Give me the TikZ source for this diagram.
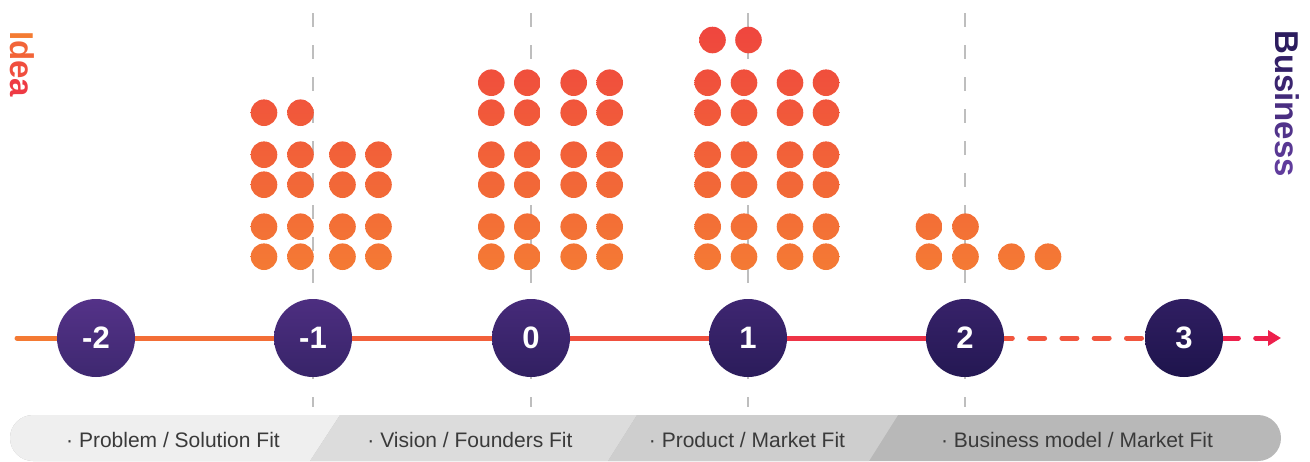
\documentclass[tikz,border=0pt]{standalone}
\usepackage{fontspec}
\setmainfont{Liberation Sans}
\usetikzlibrary{arrows.meta,backgrounds}

\definecolor{bolaTopo}{RGB}{239,70,62}
\definecolor{bolaBase}{RGB}{244,122,52}
\definecolor{roxoA}{RGB}{84,50,136}
\definecolor{roxoB}{RGB}{48,30,98}
\definecolor{roxoC}{RGB}{62,40,112}
\definecolor{roxoD}{RGB}{30,20,76}
\definecolor{cinzaGuia}{RGB}{190,190,190}
\definecolor{faixaA}{RGB}{239,239,239}
\definecolor{faixaB}{RGB}{220,220,220}
\definecolor{faixaC}{RGB}{206,206,206}
\definecolor{faixaD}{RGB}{184,184,184}
\definecolor{textoFaixa}{RGB}{58,58,58}
\definecolor{eixoA}{RGB}{244,122,51}
\definecolor{eixoB}{RGB}{243,110,54}
\definecolor{eixoC}{RGB}{242,96,58}
\definecolor{eixoD}{RGB}{240,80,62}
\definecolor{eixoE}{RGB}{238,52,70}
\definecolor{eixoF}{RGB}{241,86,62}
\definecolor{eixoG}{RGB}{237,32,76}
\definecolor{ideiaA}{RGB}{244,123,50}
\definecolor{ideiaB}{RGB}{242,100,56}
\definecolor{ideiaC}{RGB}{240,78,62}
\definecolor{ideiaD}{RGB}{238,58,68}
\definecolor{titA}{RGB}{44,28,94}
\definecolor{titB}{RGB}{96,60,156}

% bolinha colorida conforme a altura
\newcommand\bolinha[2]{%
  \pgfmathtruncatemacro\pa{max(0,min(100,(#2-40)/2.43))}%
  \pgfmathtruncatemacro\pb{max(0,min(100,(#2-13)/2.43))}%
  \shade[top color=bolaBase!\pa!bolaTopo,bottom color=bolaBase!\pb!bolaTopo] (#1,#2) circle (13.3pt);}

\begin{document}
\begin{tikzpicture}[x=1pt,y=-1pt,
  etapa/.style={circle,minimum size=78pt,inner sep=0pt,text=white,font=\fontsize{31}{31}\selectfont\bfseries},
  guia/.style={draw=cinzaGuia,line width=1.5pt,dash pattern=on 14pt off 18pt},
  eixo/.style={line width=5pt,line cap=round},
  tracejado/.style={eixo,dash pattern=on 15pt off 17.3pt},
  rotulo/.style={text=textoFaixa,font=\fontsize{21}{21}\selectfont,inner sep=0pt,anchor=base},
  titulo/.style={rotate=-90,anchor=base west,inner sep=0pt,font=\fontsize{33}{33}\selectfont\bfseries}]

\useasboundingbox (0,0) rectangle (1310,461);

% Etapas
\foreach \lab/\x/\m [count=\i from 0] in {-2/96/0,-1/313/20,0/531/40,1/748/60,2/965/80,3/1184/100}
  \node[etapa,top color=roxoB!\m!roxoA,bottom color=roxoD!\m!roxoC] (n\i) at (\x,338) {\lab};

\coordinate (inicio) at (17,338);
\coordinate (ponta) at (1281,338);
\coordinate (topo) at (0,13);
\coordinate (fundo) at (0,407);

% Guias e eixo (atras das etapas)
\begin{scope}[on background layer]
  \foreach \i in {1,...,4}
    \draw[guia] (n\i |- topo) -- (n\i |- fundo);
  \draw[eixo,color=eixoA] (inicio) -- (n0);
  \draw[eixo,color=eixoB] (n0) -- (n1);
  \draw[eixo,color=eixoC] (n1) -- (n2);
  \draw[eixo,color=eixoD] (n2) -- (n3);
  \draw[eixo,color=eixoE] (n3) -- (n4);
  \draw[tracejado,color=eixoF] (n4.center) -- (n5.center);
  \draw[tracejado,dash phase=25.2pt,color=eixoG,-{Triangle[length=13pt,width=15pt]}] (n5.center) -- (ponta);
\end{scope}

% Grupo -1
\foreach \x in {264,300.5} {\bolinha{\x}{112.7}}
\foreach \y in {154.7,184.7,226.7,256.7}
  \foreach \x in {264,300.5,342.5,378.5} {\bolinha{\x}{\y}}

% Grupo 0
\foreach \y in {82.7,112.7,154.7,184.7,226.7,256.7}
  \foreach \x in {491.3,527.3,573.7,609.7} {\bolinha{\x}{\y}}

% Grupo 1
\foreach \x in {712.5,748.5} {\bolinha{\x}{40}}
\foreach \y in {82.7,112.7,154.7,184.7,226.7,256.7}
  \foreach \x in {707.7,744,790,826} {\bolinha{\x}{\y}}

% Grupo 2
\foreach \x in {929,965.5} {\bolinha{\x}{226.7}}
\foreach \x in {929,965.5,1011.5,1048} {\bolinha{\x}{256.7}}

% Faixa inferior
\fill[faixaD,rounded corners=23pt] (10,415) rectangle (1281,461);
\begin{scope}
  \clip[rounded corners=23pt] (10,415) rectangle (1281,461);
  \fill[faixaA] (0,415) -- (340,415) -- (310,461) -- (0,461) -- cycle;
  \fill[faixaB] (340,415) -- (637,415) -- (608,461) -- (310,461) -- cycle;
  \fill[faixaC] (637,415) -- (898,415) -- (869,461) -- (608,461) -- cycle;
\end{scope}
\node[rotulo] (fit1) at (173,447) {· Problem / Solution Fit};
\node[rotulo] (fit2) at (470,447) {· Vision / Founders Fit};
\node[rotulo] (fit3) at (747,447) {· Product / Market Fit};
\node[rotulo] (fit4) at (1077,447) {· Business model / Market Fit};

% Titulos laterais
\node[titulo] (ideia) at (10,31) {\textcolor{ideiaA}{I}\textcolor{ideiaB}{d}\textcolor{ideiaC}{e}\textcolor{ideiaD}{a}};
\node[titulo] (negocio) at (1275,30) {\textcolor{titA}{B}\textcolor{titB!14!titA}{u}\textcolor{titB!28!titA}{s}\textcolor{titB!43!titA}{i}\textcolor{titB!57!titA}{n}\textcolor{titB!71!titA}{e}\textcolor{titB!86!titA}{s}\textcolor{titB}{s}};

\end{tikzpicture}
\end{document}
